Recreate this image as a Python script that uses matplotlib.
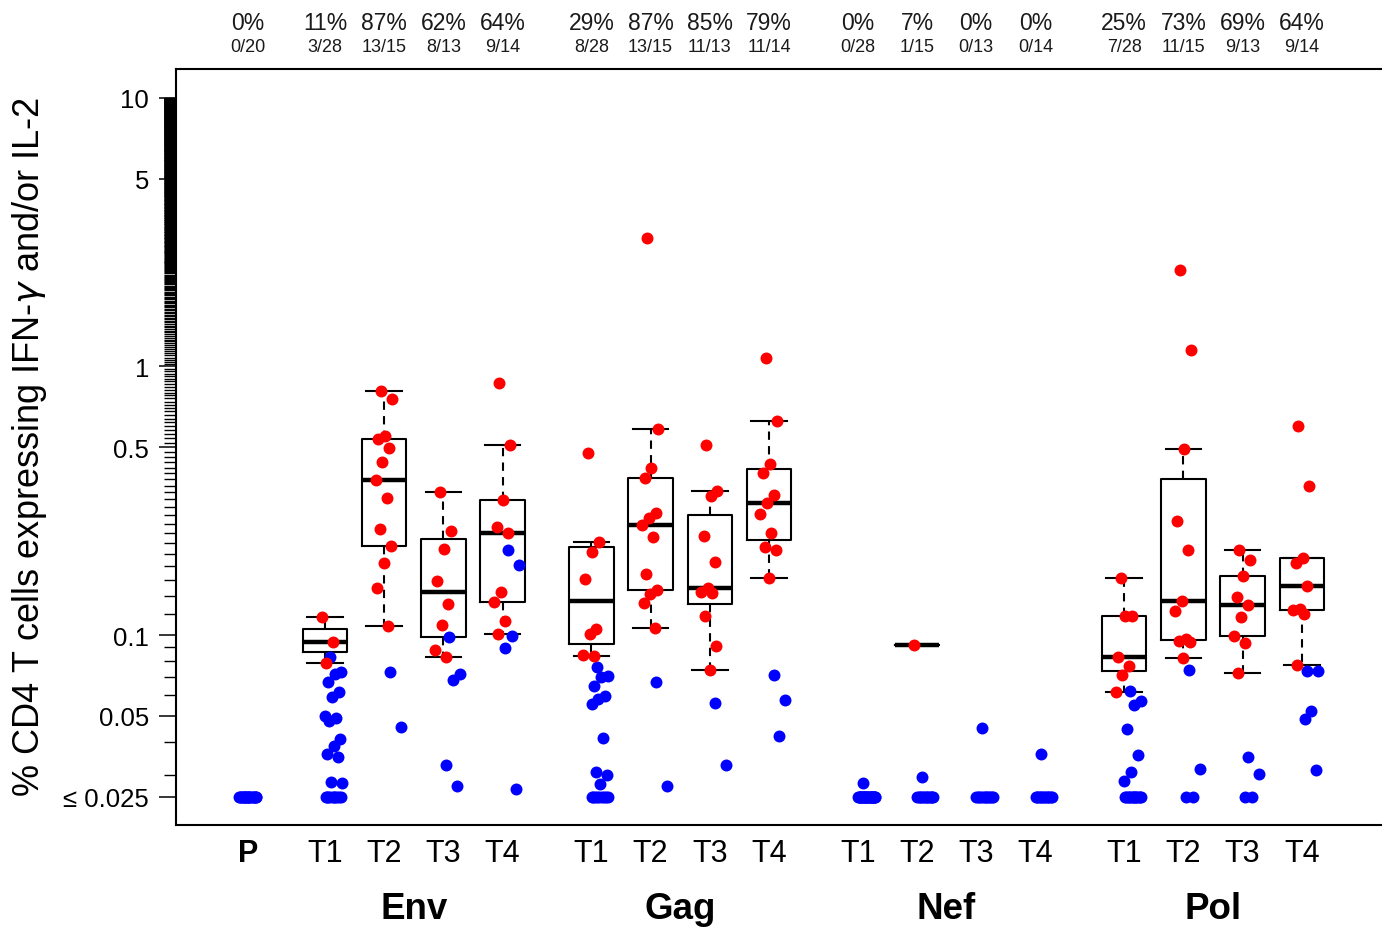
import numpy as np
import matplotlib
matplotlib.use('Agg')
import matplotlib.pyplot as plt
from matplotlib.transforms import blended_transform_factory

plt.rcParams['font.family'] = ['Liberation Sans', 'DejaVu Sans']

# values below the detection floor are plotted at 0.025
FLOOR = 0.025

GROUPS = ['Env', 'Gag', 'Nef', 'Pol']
TIMEPOINTS = ['T1', 'T2', 'T3', 'T4']

# pre-infection (P): nobody responds
p_pos = []
p_neg = [FLOOR] * 20

# responders (red) / non-responders (blue), one list per time point
env_pos = [
    [0.117, 0.0944, 0.0784],
    [0.813, 0.755, 0.550, 0.537, 0.498, 0.442, 0.379, 0.3246, 0.2488,
     0.2146, 0.1849, 0.1496, 0.1077],
    [0.340, 0.2446, 0.2097, 0.1585, 0.1305, 0.1092, 0.0882, 0.0826],
    [0.870, 0.509, 0.3184, 0.2531, 0.2404, 0.1442, 0.1323, 0.1128, 0.1006],
]
env_neg = [
    [0.0826, 0.0726, 0.0716, 0.067, 0.0612, 0.0586, 0.0498, 0.049, 0.048,
     0.041, 0.0387, 0.036, 0.035, 0.0284, 0.028] + [FLOOR] * 10,
    [0.0726, 0.0456],
    [0.0986, 0.0716, 0.0682, 0.0328, 0.0275],
    [0.2073, 0.1823, 0.0994, 0.0892, 0.0267],
]

gag_pos = [
    [0.4753, 0.2213, 0.2038, 0.1621, 0.1051, 0.1013, 0.084, 0.0835],
    [3.007, 0.5865, 0.417, 0.3841, 0.284, 0.273, 0.2564, 0.2325, 0.1686,
     0.1474, 0.1425, 0.1317, 0.1061],
    [0.5109, 0.3446, 0.328, 0.2331, 0.1866, 0.1493, 0.1445, 0.143, 0.1178,
     0.0912, 0.0744],
    [1.077, 0.626, 0.4337, 0.3996, 0.3314, 0.3102, 0.282, 0.2402, 0.212,
     0.2066, 0.1636],
]
gag_neg = [
    [0.0758, 0.0702, 0.0696, 0.0648, 0.0594, 0.0578, 0.0553, 0.0413, 0.0308,
     0.0301, 0.0279] + [FLOOR] * 9,
    [0.067, 0.0273],
    [0.0558, 0.0329],
    [0.0708, 0.0574, 0.0419],
]

nef_pos = [
    [],
    [0.0918],
    [],
    [],
]
nef_neg = [
    [0.0282] + [FLOOR] * 27,
    [0.0295] + [FLOOR] * 13,
    [0.0449] + [FLOOR] * 12,
    [0.036] + [FLOOR] * 13,
]

pol_pos = [
    [0.1631, 0.1176, 0.1176, 0.0827, 0.0764, 0.0707, 0.0611],
    [2.294, 1.155, 0.4933, 0.2661, 0.2073, 0.134, 0.1232, 0.0969, 0.0951,
     0.0945, 0.0822],
    [0.2073, 0.1906, 0.1656, 0.1383, 0.1299, 0.1168, 0.0991, 0.093, 0.0725],
    [0.6019, 0.3576, 0.1935, 0.1848, 0.1518, 0.1251, 0.1239, 0.1197, 0.0776],
]
pol_neg = [
    [0.062, 0.0569, 0.0549, 0.0447, 0.0357, 0.0308, 0.0287] + [FLOOR] * 14,
    [0.0743, 0.0318, FLOOR, FLOOR],
    [0.0352, 0.0303, FLOOR, FLOOR],
    [0.0736, 0.0736, 0.0522, 0.0488, 0.0315],
]

Y_TICKS = [0.025, 0.05, 0.1, 0.5, 1, 5, 10]
Y_TICKLABELS = ['\u2264 0.025', '0.05', '0.1', '0.5', '1', '5', '10']

RED = '#ff0000'
BLUE = '#0000ff'


def fivenum(x):
    # Tukey hinges, same as R
    x = np.sort(np.asarray(x, dtype=float))
    n = len(x)
    n4 = np.floor((n + 3) / 2) / 2
    d = np.array([1, n4, (n + 1) / 2, n + 1 - n4, n]) - 1
    return 0.5 * (x[np.floor(d).astype(int)] + x[np.ceil(d).astype(int)])


def box_stats(vals):
    _, q1, med, q3, _ = fivenum(vals)
    iqr = q3 - q1
    x = np.sort(vals)
    inside = x[(x >= q1 - 1.5 * iqr) & (x <= q3 + 1.5 * iqr)]
    return dict(med=med, q1=q1, q3=q3, whislo=inside.min(), whishi=inside.max())


def jitter(n, center, spread=0.15):
    k = (np.arange(n) * 0.6180339887 + 0.31) % 1.0
    return center + (k - 0.5) * 2 * spread


# assemble columns: P, then 4 time points per antigen
columns = [('P', p_pos, p_neg, 0.0)]
for g, (pos, neg) in enumerate([(env_pos, env_neg), (gag_pos, gag_neg),
                                (nef_pos, nef_neg), (pol_pos, pol_neg)]):
    for t in range(4):
        columns.append((TIMEPOINTS[t], pos[t], neg[t], 1.3 + 4.5 * g + t))

W, H = 1382, 929
fig = plt.figure(figsize=(W / 100, H / 100), dpi=100)
ax = fig.add_axes([176 / W, (929 - 826) / H, (W - 176) / W, (826 - 70) / H])

ax.set_yscale('log')
ax.set_ylim(0.01961, 12.82)
ax.set_xlim(-1.216, 19.155)

stats, spos = [], []
for name, pos, neg, x in columns:
    if len(pos):
        stats.append(box_stats(pos))
        spos.append(x)
ax.bxp(stats, positions=spos, widths=0.75, capwidths=0.6, showfliers=False,
       manage_ticks=False,
       boxprops=dict(lw=1.5, color='black'),
       whiskerprops=dict(lw=1.5, color='black', linestyle=(0, (4, 3))),
       capprops=dict(lw=1.5, color='black'),
       medianprops=dict(lw=3.2, color='black', solid_capstyle='butt'))

for name, pos, neg, x in columns:
    shift = 0.0 if name == 'P' else 0.15
    if len(neg):
        ax.plot(jitter(len(neg), x + shift), neg, 'o', color=BLUE,
                ms=8.6, mew=0, zorder=3, clip_on=False)
    if len(pos):
        ax.plot(jitter(len(pos), x), pos, 'o', color=RED,
                ms=8.6, mew=0, zorder=4, clip_on=False)

# percent responders on top
trans = blended_transform_factory(ax.transData, ax.transAxes)
for name, pos, neg, x in columns:
    n = len(pos) + len(neg)
    ax.text(x, 1.062, '%d%%' % round(100 * len(pos) / n), transform=trans,
            ha='center', va='center', fontsize=16.5, color='#1a1a1a')
    ax.text(x, 1.0304, '%d/%d' % (len(pos), n), transform=trans,
            ha='center', va='center', fontsize=13, color='#1a1a1a')

# x axis labels
xpos = [c[3] for c in columns]
ax.set_xticks(xpos)
ax.set_xticklabels([c[0] for c in columns], fontsize=22)
ax.get_xticklabels()[0].set_fontweight('bold')
ax.tick_params(axis='x', length=0, pad=9.5)
for g, name in enumerate(GROUPS):
    ax.text(1.3 + 4.5 * g + 1.5, -0.123, name, transform=trans,
            ha='center', va='baseline', fontsize=26.5, fontweight='bold')

# y axis: dense R-style minor ticks
ax.set_yticks(Y_TICKS)
ax.set_yticklabels(Y_TICKLABELS, fontsize=18.5)
minor = np.concatenate([np.arange(0.03, 0.1, 0.01), np.arange(0.12, 10.0, 0.02)])
ax.set_yticks(minor, minor=True)
ax.yaxis.set_minor_formatter(matplotlib.ticker.NullFormatter())
ax.tick_params(axis='y', which='major', length=12.5, width=1.1, pad=7)
ax.tick_params(axis='y', which='minor', length=8.5, width=1.0)

for side in ['top', 'left', 'bottom']:
    ax.spines[side].set_linewidth(1.5)
ax.spines['right'].set_visible(False)

fig.text(30 / W, 1 - 447 / H, '% CD4 T cells expressing IFN-$\\gamma$ and/or IL-2',
         rotation=90, ha='center', va='center', fontsize=26)

fig.savefig('out.png', dpi=100)
